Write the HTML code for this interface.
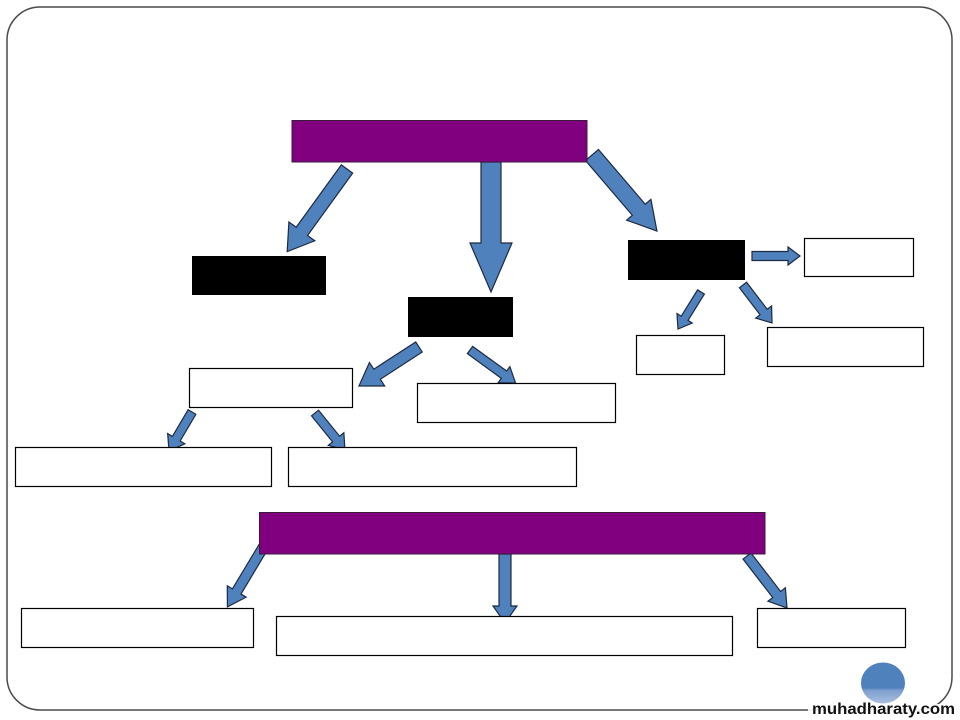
<!DOCTYPE html>
<html><head><meta charset="utf-8"><style>
html,body{margin:0;padding:0;background:#fff;}
svg{display:block;}
</style></head><body>
<svg width="960" height="720" viewBox="0 0 960 720" xmlns="http://www.w3.org/2000/svg">
<defs>
<linearGradient id="cg" x1="0" y1="0" x2="0" y2="1">
<stop offset="0" stop-color="#4f81bd"/>
<stop offset="0.62" stop-color="#4f81bd"/>
<stop offset="0.68" stop-color="#7f9fcf"/>
<stop offset="1" stop-color="#a9bfe0"/>
</linearGradient>
</defs>
<rect x="0" y="0" width="960" height="720" fill="#fff"/>
<rect x="7" y="7" width="945" height="703" rx="33" ry="33" fill="none" stroke="#4a4a4a" stroke-width="1.5"/>

<g fill="#4f81bd" stroke="#1e2a40" stroke-width="1.2" stroke-linejoin="miter">
<polygon transform="translate(347,169) rotate(125.9)" points="0,-7 77,-7 77,-16 102,0 77,16 77,7 0,7"/>
<polygon transform="translate(491,162) rotate(90)" points="0,-10 81,-10 81,-21 130,0 81,21 81,10 0,10"/>
<polygon transform="translate(592,155) rotate(49.5)" points="0,-8.5 72,-8.5 72,-16 100,0 72,16 72,8.5 0,8.5"/>
<polygon transform="translate(752,256)" points="0,-4.5 36,-4.5 36,-9 48,0 36,9 36,4.5 0,4.5"/>
<polygon transform="translate(701,292) rotate(121.9)" points="0,-4 31,-4 31,-9 43.6,0 31,9 31,4 0,4"/>
<polygon transform="translate(743,285) rotate(52.6)" points="0,-4.5 34,-4.5 34,-10 47.8,0 34,10 34,4.5 0,4.5"/>
<polygon transform="translate(419,347) rotate(147)" points="0,-6 50,-6 50,-14 71.6,0 50,14 50,6 0,6"/>
<polygon transform="translate(470,350) rotate(36)" points="0,-4.5 42,-4.5 42,-10 56.4,0 42,10 42,4.5 0,4.5"/>
<polygon transform="translate(192,412) rotate(120.5)" points="0,-4.5 31,-4.5 31,-10 45.3,0 31,10 31,4.5 0,4.5"/>
<polygon transform="translate(315,413) rotate(51)" points="0,-4.5 33.5,-4.5 33.5,-10 47.6,0 33.5,10 33.5,4.5 0,4.5"/>
<polygon transform="translate(264,546) rotate(121)" points="0,-5 53,-5 53,-11 71,0 53,11 53,5 0,5"/>
<polygon transform="translate(505,554) rotate(90)" points="0,-6 52,-6 52,-12 69,0 52,12 52,6 0,6"/>
<polygon transform="translate(747,556) rotate(52.4)" points="0,-5 48.6,-5 48.6,-11 65.6,0 48.6,11 48.6,5 0,5"/>
</g>

<rect x="292" y="120.5" width="295" height="41.5" fill="#800080" stroke="#3a1a3a" stroke-width="1"/>
<rect x="259.5" y="512.5" width="505.5" height="41.5" fill="#800080" stroke="#3a1a3a" stroke-width="1"/>

<rect x="192" y="256" width="134" height="39" fill="#000"/>
<rect x="408" y="297" width="105" height="40" fill="#000"/>
<rect x="628" y="240" width="117" height="40" fill="#000"/>

<g fill="#fff" stroke="#000" stroke-width="1.2">
<rect x="804.5" y="238.5" width="109" height="38"/>
<rect x="767.5" y="327.5" width="156" height="39"/>
<rect x="636.5" y="335.5" width="88" height="39"/>
<rect x="189.5" y="368.5" width="163" height="39"/>
<rect x="417.5" y="383.5" width="198" height="39"/>
<rect x="15.5" y="447.5" width="256" height="39"/>
<rect x="288.5" y="447.5" width="288" height="39"/>
<rect x="21.5" y="608.5" width="232" height="39"/>
<rect x="276.5" y="616.5" width="456" height="39"/>
<rect x="757.5" y="608.5" width="148" height="39"/>
</g>

<ellipse cx="883" cy="683" rx="22" ry="20.5" fill="url(#cg)"/>
<rect x="808" y="704" width="152" height="16" fill="#fff" opacity="0.9"/>
<text x="812" y="714" font-family="'Liberation Sans', sans-serif" font-weight="bold" font-size="16" textLength="143" lengthAdjust="spacingAndGlyphs" fill="#111">muhadharaty.com</text>
</svg>
</body></html>
